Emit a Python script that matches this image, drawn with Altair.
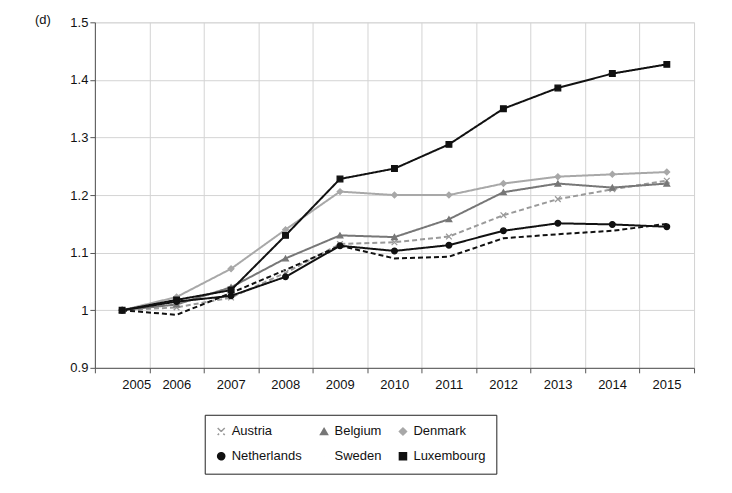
import altair as alt
import pandas as pd

years = list(range(2005, 2016))
countries = ['Austria', 'Belgium', 'Denmark', 'Netherlands', 'Sweden', 'Luxembourg']
austria = [1, 1.005, 1.022, 1.065, 1.115, 1.118, 1.128, 1.165, 1.193, 1.21, 1.225]
belgium = [1, 1.01, 1.04, 1.09, 1.13, 1.127, 1.158, 1.205, 1.22, 1.213, 1.22]
denmark = [1, 1.023, 1.072, 1.14, 1.206, 1.2, 1.2, 1.22, 1.232, 1.236, 1.24]
netherlands = [1, 1.015, 1.025, 1.058, 1.112, 1.103, 1.113, 1.138, 1.151, 1.149, 1.145]
sweden = [1, 0.992, 1.03, 1.07, 1.112, 1.09, 1.093, 1.125, 1.132, 1.138, 1.15]
luxembourg = [1, 1.018, 1.035, 1.13, 1.228, 1.246, 1.288, 1.35, 1.386, 1.411, 1.427]
grid_years = [y + 0.5 for y in range(2004, 2016)]

series = [austria, belgium, denmark, netherlands, sweden, luxembourg]
rows = []
for name, vals in zip(countries, series):
    for yr, v in zip(years, vals):
        rows.append({'country': name, 'year': yr, 'value': v})
df = pd.DataFrame(rows)

FONT = 'Liberation Sans'
colors = ['#9a9a9a', '#777777', '#a8a8a8', '#111111', '#111111', '#111111']
dashes = [[5, 3], [1, 0], [1, 0], [1, 0], [5, 3], [1, 0]]
shapes = ['M-1,-1L1,1M1,-1L-1,1', 'triangle-up', 'diamond', 'circle', 'M0,0L0,0', 'square']

xscale = alt.Scale(domain=[2004.5, 2015.5], nice=False, zero=False)
yscale = alt.Scale(domain=[0.9, 1.5], nice=False, zero=False)
cscale = alt.Scale(domain=countries, range=colors)

# one axis: ticks and grid at half-years, year labels shifted to the middle
xaxis = alt.Axis(values=grid_years, grid=True, gridColor='#d4d4d4', ticks=True,
                 tickColor='#555', domainColor='#555', labelOffset=27, labelPadding=6,
                 labelExpr="datum.value > 2015 ? '' : format(datum.value + 0.5, 'd')",
                 labelFontSize=13, labelColor='#111', title=None)

base = alt.Chart(df).encode(
    x=alt.X('year:Q', scale=xscale, axis=xaxis),
    y=alt.Y('value:Q', scale=yscale,
            axis=alt.Axis(values=[0.9, 1, 1.1, 1.2, 1.3, 1.4, 1.5], format='~g',
                          gridColor='#d4d4d4', domainColor='#555', tickColor='#555',
                          labelFontSize=13, labelColor='#111', title=None)),
    color=alt.Color('country:N', sort=countries, scale=cscale,
                    legend=alt.Legend(title=None, orient='none', legendX=110, legendY=393,
                                      columns=3, direction='horizontal', strokeColor='#222',
                                      padding=10, columnPadding=14, rowPadding=10,
                                      labelFontSize=13, labelFont=FONT, labelColor='#111',
                                      symbolSize=50, symbolStrokeWidth=1.5)),
)

lines = base.mark_line(strokeWidth=2).encode(
    strokeDash=alt.StrokeDash('country:N', sort=countries,
                              scale=alt.Scale(domain=countries, range=dashes), legend=None))
points = base.mark_point(filled=True, size=32, opacity=1, strokeWidth=1.3).encode(
    stroke=alt.Stroke('country:N', sort=countries, scale=cscale, legend=None),
    shape=alt.Shape('country:N', sort=countries,
                    scale=alt.Scale(domain=countries, range=shapes)))

label = alt.Chart(pd.DataFrame({'t': ['(d)']})).mark_text(
    font=FONT, fontSize=13, align='left', baseline='middle', color='#111').encode(
    text='t:N', x=alt.value(-60), y=alt.value(-2))

chart = alt.layer(lines, points, label).properties(
    width=600, height=346,
    autosize='none',
    padding={'left': 87, 'top': 14, 'right': 30, 'bottom': 120},
).configure_view(stroke=None).configure(font=FONT)

chart.save("out.html", embed_options={"renderer": "svg", "actions": False})
